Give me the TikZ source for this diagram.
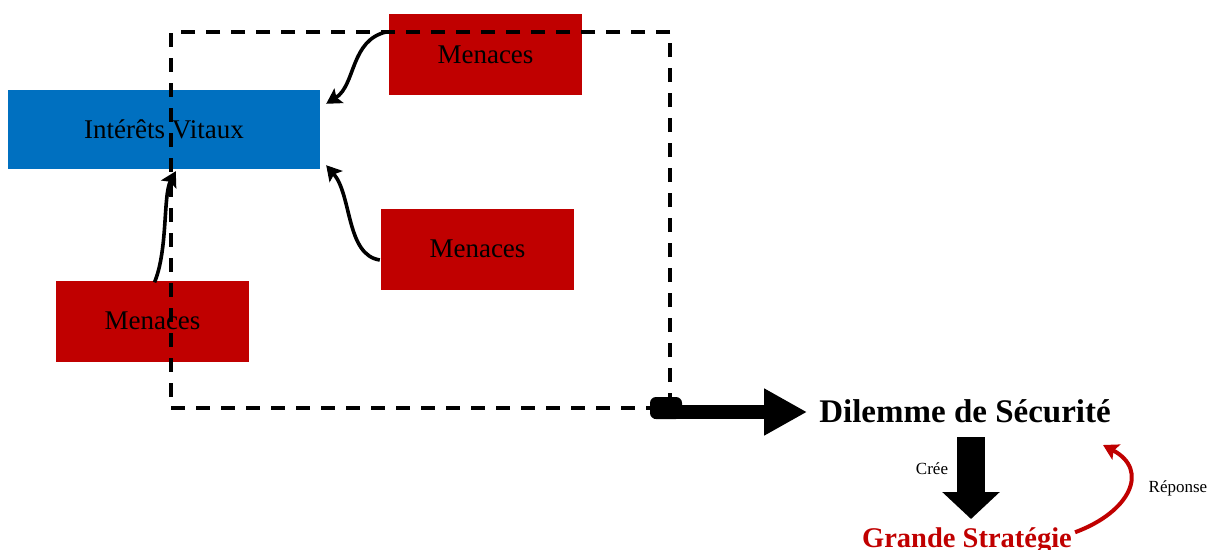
\documentclass[tikz,border=0pt]{standalone}
\usepackage{fontspec}
\setmainfont{Liberation Serif}
\usetikzlibrary{arrows.meta,calc}
\definecolor{boxblue}{HTML}{0070C0}
\definecolor{boxred}{HTML}{C00000}
\tikzset{
  bluebox/.style={fill=boxblue,draw=none,minimum width=312pt,minimum height=79pt,inner sep=0pt,font=\fontsize{27}{30}\selectfont},
  redbox/.style={fill=boxred,draw=none,minimum width=193pt,minimum height=81pt,inner sep=0pt,font=\fontsize{27}{30}\selectfont},
  dashbox/.style={draw=black,line width=4pt,dash pattern=on 14pt off 11pt,minimum width=499pt,minimum height=376pt,inner sep=0pt},
  curvearrow/.style={line width=3.6pt,-{Stealth[length=15pt,width=17pt,inset=3pt]}},
  bigarrow/.style={line width=14pt,-{Triangle[length=43pt,width=44pt]}},
  downarrow/.style={line width=28pt,-{Triangle[length=27pt,width=56pt]}},
  redarrow/.style={boxred,line width=4pt,-{Stealth[length=15pt,width=17pt,inset=3pt]}},
  smalllabel/.style={font=\fontsize{17}{20}\selectfont,inner sep=0pt}
}
\begin{document}
\begin{tikzpicture}[x=1pt,y=-1pt]
\useasboundingbox (0,0) rectangle (1220,549);
% boxes
\node[bluebox] (iv) at (164,129.5) {Intérêts Vitaux};
\node[redbox] (m1) at (485.5,54.5) {Menaces};
\node[redbox] (m2) at (477.5,249) {Menaces};
\node[redbox] (m3) at (152.5,321) {Menaces};
% dashed group frame
\node[dashbox] (grp) at (420.5,220) {};
% curved arrows
\draw[curvearrow] ($(m1.north west)+(-2,18)$) .. controls (350,40) and (356,85) .. ($(iv.north east)+(6,14)$);
\draw[curvearrow] ($(m2.west)+(-1,11)$) .. controls (346,255) and (352,195) .. ($(iv.south east)+(6,-4)$);
\draw[curvearrow] ($(m3.north)+(2,2)$) .. controls (168,250) and (163,195) .. ($(iv.south west)+(168,2)$);
% texts
\node[font=\bfseries\fontsize{33}{36}\selectfont,anchor=base,inner sep=0pt] (dil) at (965,422) {Dilemme de Sécurité};
\node[font=\bfseries\fontsize{28.5}{32}\selectfont,text=boxred,anchor=base,inner sep=0pt] (gs) at (967,547) {Grande Stratégie};
% big arrow
\coordinate (bstart) at ($(grp.south east)+(-18,2)$);
\coordinate (bend) at ($(dil.west)+(-12,0)$);
\fill[rounded corners=6pt] ($(bstart)+(-4,-15)$) rectangle ($(bstart)+(28,7)$);
\draw[bigarrow] (bstart) -- (bstart -| bend);
% down arrow
\coordinate (dtop) at (971,437);
\coordinate (dtip) at (971,519);
\draw[downarrow] (dtop) -- (dtip);
\node[smalllabel] (cree) at (932,469) {Crée};
% response arrow
\draw[redarrow] ($(gs.east)+(3,-8)$) .. controls (1130,512) and (1150,470) .. (1103,445);
\node[smalllabel] (rep) at (1178,488) {Réponse};
\end{tikzpicture}
\end{document}
